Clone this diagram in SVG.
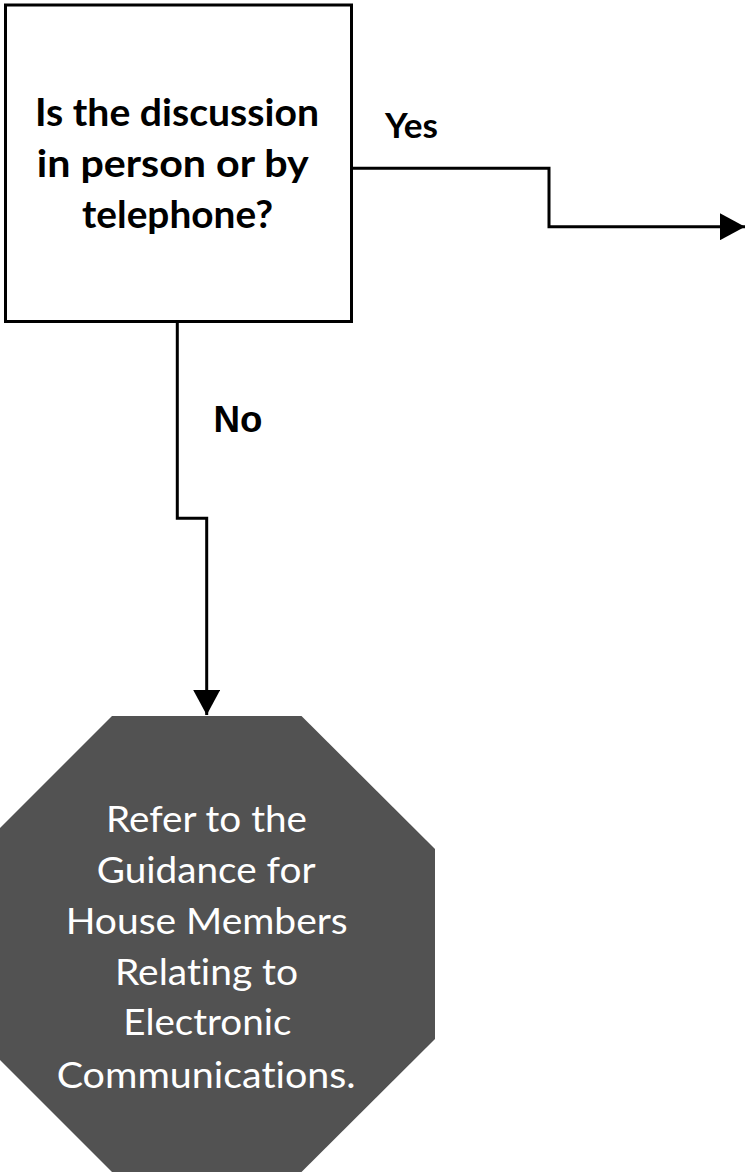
<svg xmlns="http://www.w3.org/2000/svg" width="747" height="1172" viewBox="0 0 747 1172">
  <defs>
    <style>
      .wire { fill: none; stroke: #000; stroke-width: 3; stroke-linejoin: miter; }
      text { font-variant-ligatures: none; font-feature-settings: "liga" 0, "clig" 0; }
      .q { font-family: Lato, "Open Sans", sans-serif; font-weight: bold; font-size: 38px; fill: #000; }
      .lbl { font-family: Lato, "Open Sans", sans-serif; font-weight: bold; font-size: 34px; fill: #000; }
      .lbl-no { font-family: "Liberation Sans", Arial, sans-serif; font-weight: bold; font-size: 36px; fill: #000; }
      .stop { font-family: Lato, "Open Sans", sans-serif; font-size: 36px; fill: #fff; }
    </style>
    <marker id="head" viewBox="0 0 25 27" refX="25" refY="13.5" markerWidth="25" markerHeight="27" markerUnits="userSpaceOnUse" orient="auto">
      <path d="M0,0 L25,13.5 L0,27 Z" fill="#000"/>
    </marker>
  </defs>
  <rect width="747" height="1172" fill="#fff"/>

  <!-- decision box -->
  <g id="question">
    <rect x="5.5" y="5" width="346" height="316.5" fill="#fff" stroke="#000" stroke-width="3"/>
    <text class="q">
      <tspan x="35" y="126" textLength="284" lengthAdjust="spacingAndGlyphs">Is the discussion</tspan>
      <tspan x="36.7" y="177" textLength="271" lengthAdjust="spacingAndGlyphs">in person or by</tspan>
      <tspan x="82" y="228" textLength="191" lengthAdjust="spacingAndGlyphs">telephone?</tspan>
    </text>
  </g>

  <!-- stop sign: electronic communications -->
  <g id="electronic">
    <polygon points="112,716 301.5,716 435,849 435,1039 301.5,1172 112,1172 -21,1039 -21,849" fill="#525252"/>
    <text class="stop">
      <tspan x="106" y="831.7" textLength="201" lengthAdjust="spacingAndGlyphs">Refer to the</tspan>
      <tspan x="96.7" y="882.7" textLength="218" lengthAdjust="spacingAndGlyphs">Guidance for</tspan>
      <tspan x="65.7" y="934.3" textLength="282" lengthAdjust="spacingAndGlyphs">House Members</tspan>
      <tspan x="115" y="985" textLength="183" lengthAdjust="spacingAndGlyphs">Relating to</tspan>
      <tspan x="123.3" y="1035" textLength="168" lengthAdjust="spacingAndGlyphs">Electronic</tspan>
      <tspan x="56.7" y="1088.3" textLength="299" lengthAdjust="spacingAndGlyphs">Communications.</tspan>
    </text>
  </g>

  <!-- connectors -->
  <g id="connectors">
    <path class="wire" d="M351,168.3 H549 V226.7 H745" marker-end="url(#head)"/>
    <path class="wire" d="M177.3,321 V518.3 H206.7 V715" marker-end="url(#head)"/>
    <text class="lbl" x="385" y="138.3" textLength="53" lengthAdjust="spacingAndGlyphs">Yes</text>
    <text class="lbl-no" x="213.5" y="431.7" textLength="49" lengthAdjust="spacingAndGlyphs">No</text>
  </g>
</svg>
